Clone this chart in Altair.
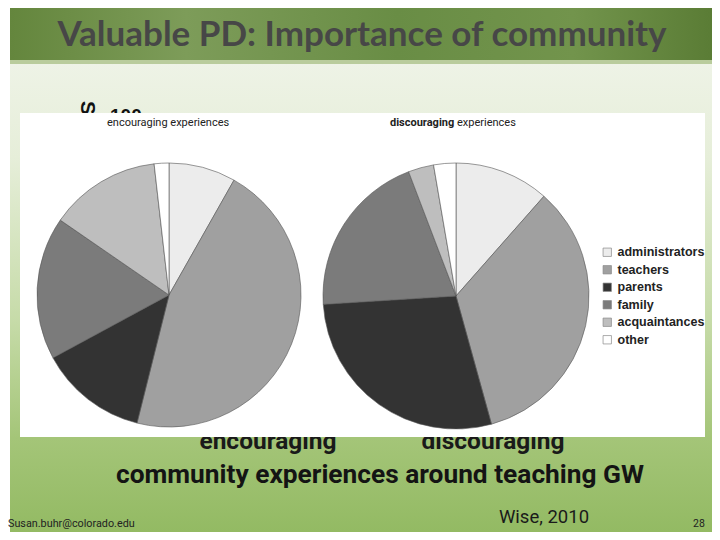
import altair as alt
import pandas as pd

categories = ["administrators", "teachers", "parents", "family", "acquaintances", "other"]
encouraging = [8.2, 45.7, 13.2, 17.5, 13.6, 1.8]
discouraging = [11.5, 34.2, 28.3, 20.2, 3.1, 2.7]
shades = ["#ececec", "#a0a0a0", "#333333", "#7b7b7b", "#bebebe", "#ffffff"]

title_text = "Valuable PD:  Importance of community"
pie_titles = ["encouraging", "experiences", "discouraging", "experiences"]
group_labels = ["encouraging", "discouraging"]
caption = "community experiences around teaching GW"
footer_left = "Susan.buhr@colorado.edu"
footer_mid = "Wise, 2010"
footer_right = "28"

W, H = 704, 524
OFF = 8


def X(v):
    return v - OFF


def Y(v):
    return v - OFF


one = pd.DataFrame({"k": [0]})
NARROW = "Liberation Sans Narrow, Arial Narrow, Roboto, sans-serif"
ARIAL = "Liberation Sans, Arial, sans-serif"


def rect(y0, y1, fill, x0=0, x1=W):
    return alt.Chart(one).mark_rect(color=fill).encode(
        x=alt.value(x0), x2=alt.value(x1), y=alt.value(y0), y2=alt.value(y1)
    )


def txt(s, x, y, size, font=ARIAL, weight="normal", color="#111", align="center", angle=0):
    kw = dict(font=font, fontSize=size, fontWeight=weight, color=color, align=align, baseline="alphabetic")
    if angle:
        kw["angle"] = angle
    return alt.Chart(pd.DataFrame({"t": [s]})).mark_text(**kw).encode(
        text="t:N", x=alt.value(x), y=alt.value(y)
    )


top_band = rect(0, Y(62), alt.LinearGradient(
    gradient="linear", x1=0, x2=1, y1=0, y2=0,
    stops=[alt.GradientStop(offset=0, color="#64863d"),
           alt.GradientStop(offset=0.25, color="#7d9c59"),
           alt.GradientStop(offset=0.55, color="#698d45"),
           alt.GradientStop(offset=0.8, color="#72944c"),
           alt.GradientStop(offset=1, color="#5a7c35")]))
top_edge = rect(Y(60), Y(64), "#b9cc9c")
body = rect(Y(64), H, alt.LinearGradient(
    gradient="linear", x1=0, x2=0, y1=0, y2=1,
    stops=[alt.GradientStop(offset=0, color="#eef3e6"),
           alt.GradientStop(offset=0.2, color="#e6eed9"),
           alt.GradientStop(offset=0.55, color="#c6dba8"),
           alt.GradientStop(offset=0.8, color="#a4c578"),
           alt.GradientStop(offset=1, color="#93ba63")]))

title = txt(title_text, X(360), Y(46), 35, font="Lato, Open Sans, sans-serif", weight="bold", color="#474747")

art_s = txt("S", X(79), Y(108), 21, weight="bold", color="#111", angle=90)
art_100 = txt("100", X(108), Y(122), 19, weight="bold", color="#111", align="left")
lab_enc = txt(group_labels[0], X(266), Y(449), 24.5, font=NARROW, weight="bold", color="#1a1a1a")
lab_dis = txt(group_labels[1], X(491), Y(449), 24.5, font=NARROW, weight="bold", color="#1a1a1a")

white = rect(Y(113), Y(437), "#ffffff", X(18), X(703))

df_enc = pd.DataFrame({"cat": categories, "pct": encouraging, "idx": list(range(6))})
df_dis = pd.DataFrame({"cat": categories, "pct": discouraging, "idx": list(range(6))})

color_scale = alt.Scale(domain=categories, range=shades)
legend = alt.Legend(
    orient="none", legendX=X(599), legendY=Y(246), title=None,
    labelFont=ARIAL, labelFontSize=12.5, labelFontWeight="bold", labelColor="#222",
    symbolType="square", symbolSize=70, symbolStrokeColor="#888", symbolStrokeWidth=0.7,
    rowPadding=4.5, labelOffset=4,
)

pie_enc = alt.Chart(df_enc).mark_arc(radius=132, stroke="#555", strokeWidth=0.6).encode(
    theta=alt.Theta("pct:Q", stack=True),
    order=alt.Order("idx:Q"),
    color=alt.Color("cat:N", scale=color_scale, legend=legend),
    x=alt.value(X(167)), y=alt.value(Y(295)),
)
pie_dis = alt.Chart(df_dis).mark_arc(radius=133, stroke="#555", strokeWidth=0.6).encode(
    theta=alt.Theta("pct:Q", stack=True),
    order=alt.Order("idx:Q"),
    color=alt.Color("cat:N", scale=color_scale, legend=legend),
    x=alt.value(X(454)), y=alt.value(Y(296)),
)

pt1 = txt(pie_titles[0] + " " + pie_titles[1], X(105), Y(126), 11, font=NARROW, color="#222", align="left")
pt2 = txt(pie_titles[2], X(388), Y(126), 11, font=NARROW, weight="bold", color="#222", align="left")
pt3 = txt(pie_titles[3], X(455), Y(126), 11, font=NARROW, color="#222", align="left")

cap = txt(caption, X(378), Y(483), 26.3, font=NARROW, weight="bold", color="#141414")
f1 = txt(footer_left, X(6), Y(527), 10.8, font=NARROW, color="#222", align="left")
f2 = txt(footer_mid, X(542), Y(523), 18.5, font=NARROW, color="#1a1a1a")
f3 = txt(footer_right, X(697), Y(527), 10.5, font=NARROW, color="#222")

chart = alt.layer(
    top_band, top_edge, body, title, art_s, art_100, lab_enc, lab_dis, white,
    pie_enc, pie_dis, pt1, pt2, pt3, cap, f1, f2, f3,
).resolve_scale(theta="independent").properties(
    width=W, height=H, padding=0,
    autosize=alt.AutoSizeParams(type="fit", contains="padding"),
).configure_view(stroke=None)

chart.save("out.html", embed_options={"renderer": "svg", "actions": False})
